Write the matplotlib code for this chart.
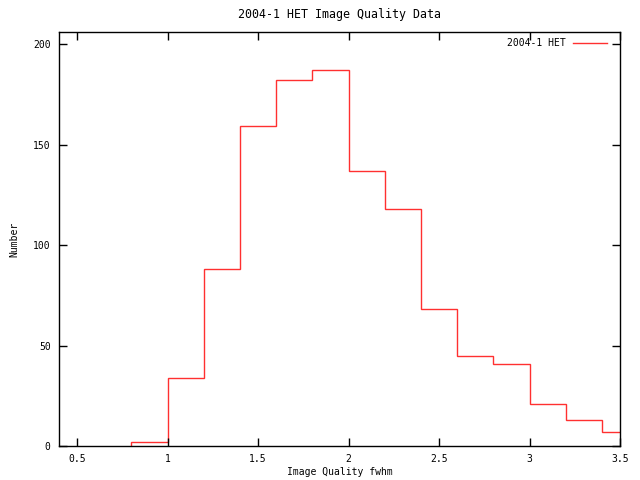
import numpy as np
import matplotlib
matplotlib.use("Agg")
import matplotlib.pyplot as plt

# histogram of image quality (fwhm), bins of 0.2
bin_edges = [0.8, 1.0, 1.2, 1.4, 1.6, 1.8, 2.0, 2.2, 2.4, 2.6, 2.8, 3.0, 3.2, 3.4, 3.6]
counts = [2, 34, 88, 159, 182, 187, 137, 118, 68, 45, 41, 21, 13, 7]

x_ticks = [0.5, 1, 1.5, 2, 2.5, 3, 3.5]
x_tick_labels = ["0.5", "1", "1.5", "2", "2.5", "3", "3.5"]
y_ticks = [0, 50, 100, 150, 200]

plt.rcParams['font.family'] = ['DejaVu Sans Mono']
plt.rcParams['font.size'] = 7

fig = plt.figure(figsize=(6.4, 4.8), dpi=100)
ax = fig.add_axes([59/640, 34/480, 561/640, 414/480])

ax.stairs(counts, bin_edges, color='#ff3030', linewidth=1, label='2004-1 HET')

ax.set_xlim(0.4, 3.5)
ax.set_ylim(0, 206)
ax.set_xticks(x_ticks)
ax.set_xticklabels(x_tick_labels)
ax.set_yticks(y_ticks)
ax.tick_params(direction='in', top=True, right=True, length=6, width=1)
ax.tick_params(axis='x', pad=6)
ax.tick_params(axis='y', pad=6)
for s in ax.spines.values():
    s.set_linewidth(1)

ax.set_title('2004-1 HET Image Quality Data', pad=10)
ax.set_xlabel('Image Quality fwhm', labelpad=2)
ax.set_ylabel('Number', labelpad=10)

leg = ax.legend(loc='upper right', bbox_to_anchor=(0.984, 0.995), frameon=False,
                handlelength=3.5, markerfirst=False, borderaxespad=0,
                handletextpad=0.8)

fig.savefig('out.png', dpi=100)
